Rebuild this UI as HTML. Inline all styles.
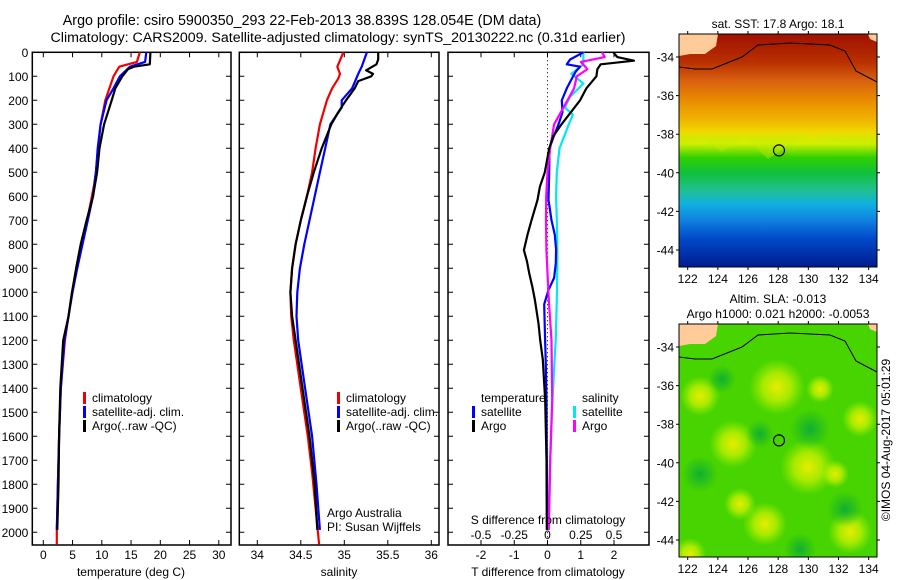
<!DOCTYPE html>
<html><head><meta charset="utf-8"><style>
html,body{margin:0;padding:0;background:#fff;}
svg{display:block;font-family:"Liberation Sans",sans-serif;}
</style></head><body>
<svg id="c" width="900" height="580" viewBox="0 0 900 580" xmlns="http://www.w3.org/2000/svg">
<defs>
<linearGradient id="sstg" x1="0" y1="0" x2="0" y2="1">
<stop offset="0" stop-color="#a01000"/><stop offset="0.12" stop-color="#b83000"/>
<stop offset="0.2" stop-color="#d86010"/><stop offset="0.28" stop-color="#e88a00"/>
<stop offset="0.36" stop-color="#f0b000"/><stop offset="0.42" stop-color="#f0d800"/>
<stop offset="0.47" stop-color="#d0f000"/><stop offset="0.53" stop-color="#30d000"/>
<stop offset="0.6" stop-color="#10c040"/><stop offset="0.67" stop-color="#20c090"/>
<stop offset="0.73" stop-color="#10b0e0"/><stop offset="0.8" stop-color="#1080e0"/>
<stop offset="0.88" stop-color="#0048c8"/><stop offset="1" stop-color="#001c90"/>
</linearGradient>
<radialGradient id="yb"><stop offset="0" stop-color="#e8ec00"/><stop offset="0.5" stop-color="#c0f000" stop-opacity="0.8"/><stop offset="1" stop-color="#a0f000" stop-opacity="0"/></radialGradient>
<radialGradient id="gb"><stop offset="0" stop-color="#10b030"/><stop offset="1" stop-color="#10b030" stop-opacity="0"/></radialGradient>
</defs>
<text x="302" y="25" font-size="14.3" text-anchor="middle">Argo profile: csiro 5900350_293 22-Feb-2013 38.839S 128.054E (DM data)</text>
<text x="338" y="42" font-size="14.2" text-anchor="middle">Climatology: CARS2009. Satellite-adjusted climatology: synTS_20130222.nc (0.31d earlier)</text>
<g id="p1"></g>
<g id="p2"></g>
<g id="p3"></g>
<g id="m1"></g>
<g id="m2"></g>
<text transform="translate(890,440) rotate(-90)" font-size="12" text-anchor="middle">©IMOS 04-Aug-2017 05:01:29</text>
</svg>
<script>
// ---- data ----
const tClimDepth = [0,40,60,100,150,200,300,400,500,550,600,700,800,900,1000,1100,1200,1400,1600,1800,2000,2050];
const tClimVal   = [16.5,16.0,13.0,12.0,11.3,10.6,9.8,9.4,9.0,8.7,8.3,7.5,6.6,5.8,4.9,4.3,3.7,3.0,2.7,2.5,2.3,2.3];
const tSatDepth  = [0,40,60,100,150,200,300,400,500,600,700,800,900,1000,1100,1200,1400,1600,1800,1990];
const tSatVal    = [17.6,17.4,14.8,13.1,12.0,10.8,9.8,9.3,9.0,8.5,7.6,6.7,5.8,5.0,4.3,3.6,3.0,2.7,2.5,2.3];
const tArgoDepth = [0,50,60,70,100,150,200,300,400,500,600,700,800,900,1000,1100,1200,1400,1600,1800,1990];
const tArgoVal   = [18.3,18.2,15.5,14.5,13.5,12.3,11.7,10.4,9.6,9.2,8.5,7.4,6.4,5.6,4.9,4.3,3.4,2.9,2.7,2.6,2.4];
const sClimDepth = [0,60,90,110,150,200,300,400,500,600,700,800,900,1000,1100,1200,1300,1450,1600,1750,1900,2050];
const sClimVal   = [34.99,34.92,34.95,34.93,34.86,34.80,34.72,34.67,34.63,34.57,34.50,34.44,34.40,34.38,34.39,34.42,34.46,34.52,34.58,34.63,34.67,34.71];
const sSatDepth  = [0,60,90,150,200,230,300,400,500,600,700,800,900,1000,1100,1200,1400,1600,1800,1990];
const sSatVal    = [35.26,35.20,35.16,35.09,34.97,34.97,34.84,34.78,34.72,34.66,34.60,34.54,34.49,34.46,34.45,34.47,34.55,34.63,34.68,34.72];
const sArgoDepth = [0,30,50,75,90,100,120,150,200,250,300,400,500,600,700,800,900,1000,1100,1200,1400,1600,1800,1990];
const sArgoVal   = [35.39,35.39,35.37,35.25,35.33,35.31,35.16,35.12,35.02,34.93,34.85,34.74,34.65,34.57,34.50,34.44,34.40,34.38,34.40,34.44,34.52,34.60,34.66,34.69];
const dTSatDepth = [0,30,50,60,80,100,150,200,250,300,350,400,500,615,700,760,820,880,940,990,1050,1150,1300,1450,1700,1990];
const dTSatVal   = [1.08,0.68,0.58,0.98,0.85,0.77,0.58,0.43,0.45,0.33,0.19,0.06,0.05,0.03,0.12,0.22,0.26,0.25,0.2,0.03,-0.1,-0.08,-0.05,-0.03,-0.02,0.0];
const dTArgoDepth= [0,20,35,50,70,100,150,200,250,300,350,400,500,560,615,700,760,824,870,920,980,1032,1130,1200,1280,1450,1700,1990];
const dTArgoVal  = [1.98,2.1,2.6,1.6,1.5,1.47,1.17,0.98,0.7,0.42,0.17,0.05,-0.08,-0.23,-0.3,-0.48,-0.6,-0.71,-0.62,-0.55,-0.45,-0.38,-0.27,-0.22,-0.14,-0.07,-0.03,-0.02];
const dSSatDepth = [0,50,90,130,185,230,260,300,400,500,600,700,800,900,1032,1200,1449,1700,1990];
const dSSatVal   = [0.27,0.27,0.18,0.27,0.17,0.13,0.19,0.16,0.09,0.07,0.065,0.07,0.074,0.074,0.07,0.062,0.037,0.02,0.01];
const dSArgoDepth= [0,20,40,70,100,150,200,250,300,400,500,600,700,824,1032,1200,1449,1700,1990];
const dSArgoVal  = [0.41,0.43,0.25,0.30,0.22,0.20,0.15,0.10,0.05,0.02,0.0,-0.01,-0.011,-0.008,0.01,0.03,0.035,0.02,0.01];
const depthTicks = [0,100,200,300,400,500,600,700,800,900,1000,1100,1200,1300,1400,1500,1600,1700,1800,1900,2000];
const tTicks = [0,5,10,15,20,25,30];
const sTicks = [34,34.5,35,35.5,36];
const dTTicks = [-2,-1,0,1,2];
const dSTicks = [-0.5,-0.25,0,0.25,0.5];
const dSTickLabels = ["-0.5","-0.25","0","0.25","0.5"];
const latTicks = [-34,-36,-38,-40,-42,-44];
const lonTicks = [122,124,126,128,130,132,134];
const argoLon = 128.054, argoLat = -38.839;

// ---- helpers ----
const NS="http://www.w3.org/2000/svg";
function mk(tag, attrs, parent, txt){const e=document.createElementNS(NS,tag);for(const k in attrs)e.setAttribute(k,attrs[k]);if(txt!==undefined)e.textContent=txt;parent.appendChild(e);return e;}
const yD = d => 52.3 + d*0.24;
const xT = t => 43.3 + t*5.85;
const xS = s => 257.3 + (s-34)*87;
const xDT = t => 547.5 + t*33.25;
const xDS = s => 547.5 + s*133;
const TOP=52.3, BOT=545;

function frame(g,x0,x1){
  const r=mk('rect',{x:x0,y:TOP,width:x1-x0,height:BOT-TOP,fill:'none',stroke:'#000','stroke-width':1.5},g);
  
  
}
function yTicks(g,x0,x1,labels){
  depthTicks.forEach(d=>{
    const y=yD(d);
    const l=mk('path',{d:`M${x0},${y}h5M${x1},${y}h-5`,stroke:'#000','stroke-width':1},g);
    
    
    if(labels){
      const t=mk('text',{x:x0-4,y:y+4.5,'font-size':12,'text-anchor':'end'},g,String(d));
      
      
    }
  });
}
function xTicks(g,vals,fx,labels,ly,top){
  vals.forEach((v,i)=>{
    const x=fx(v);
    const l=mk('path',{d:`M${x},${BOT}v-5`+(top?`M${x},${TOP}v5`:''),stroke:'#000','stroke-width':1},g);
    
    
    if(labels){
      const t=mk('text',{x:x,y:ly,'font-size':12,'text-anchor':'middle'},g,labels[i]);
      
      
    }
  });
}
function line(g,ds,vs,fx,col,name){
  const pts=ds.map((d,i)=>fx(vs[i]).toFixed(1)+','+yD(d).toFixed(1)).join(' ');
  const p=mk('polyline',{points:pts,fill:'none',stroke:col,'stroke-width':2.2,'stroke-linejoin':'round'},g);
  
  
}
function legend(g,x,y,col,label){
  const r=mk('rect',{x:x,y:y-10,width:3,height:12,fill:col},g);
  
  
  const t=mk('text',{x:x+9,y:y,'font-size':12},g,label);
  
  
}
function txt(g,x,y,s,anchor,name,size){
  const t=mk('text',{x:x,y:y,'font-size':size||12,'text-anchor':anchor||'start'},g,s);
  
  
}

// ---- panel 1 ----
const p1=document.getElementById('p1');
frame(p1,32.3,231); yTicks(p1,32.3,231,true);
xTicks(p1,tTicks,xT,tTicks.map(String),559,true);
txt(p1,131,576,'temperature (deg C)','middle','x-axis-title');
line(p1,tClimDepth,tClimVal,xT,'#f00000','temp-climatology-line');
line(p1,tSatDepth,tSatVal,xT,'#0000ff','temp-satellite-line');
line(p1,tArgoDepth,tArgoVal,xT,'#000','temp-argo-line');
legend(p1,83,402,'#f00000','climatology');
legend(p1,83,416,'#0000ff','satellite-adj. clim.');
legend(p1,83,430,'#000','Argo(..raw -QC)');

// ---- panel 2 ----
const p2=document.getElementById('p2');
frame(p2,239.3,439); yTicks(p2,239.3,439,false);
xTicks(p2,sTicks,xS,sTicks.map(String),559,true);
txt(p2,339,576,'salinity','middle','x-axis-title');
line(p2,sClimDepth,sClimVal,xS,'#f00000','sal-climatology-line');
line(p2,sSatDepth,sSatVal,xS,'#0000ff','sal-satellite-line');
line(p2,sArgoDepth,sArgoVal,xS,'#000','sal-argo-line');
legend(p2,337,402,'#f00000','climatology');
legend(p2,337,416,'#0000ff','satellite-adj. clim.');
legend(p2,337,430,'#000','Argo(..raw -QC)');
txt(p2,327,517,'Argo Australia','start','credit-argo-australia');
txt(p2,327,531,'PI: Susan Wijffels','start','credit-pi');

// ---- panel 3 ----
const p3=document.getElementById('p3');
frame(p3,448,649); yTicks(p3,448,649,false);
xTicks(p3,dTTicks,xDT,dTTicks.map(String),559,true);
const zl=mk('line',{x1:xDT(0),y1:TOP,x2:xDT(0),y2:BOT,stroke:'#000','stroke-width':1,'stroke-dasharray':'1,3'},p3);


line(p3,dSSatDepth,dSSatVal,xDS,'#00e8f0','sdiff-satellite-line');
line(p3,dTSatDepth,dTSatVal,xDT,'#0000ff','tdiff-satellite-line');
line(p3,dSArgoDepth,dSArgoVal,xDS,'#ff00ff','sdiff-argo-line');
line(p3,dTArgoDepth,dTArgoVal,xDT,'#000','tdiff-argo-line');
dSTicks.forEach((v,i)=>{txt(p3,xDS(v),539,dSTickLabels[i],'middle','s-tick-label');});
txt(p3,548,524,'S difference from climatology','middle','s-axis-title');
txt(p3,548,576,'T difference from climatology','middle','t-axis-title');
txt(p3,481,402,'temperature','start','legend-title-temperature');
txt(p3,582,402,'salinity','start','legend-title-salinity');
legend(p3,472,416,'#0000ff','satellite');
legend(p3,472,430,'#000','Argo');
legend(p3,573,416,'#00e8f0','satellite');
legend(p3,573,430,'#ff00ff','Argo');

// ---- maps ----
const MX0=679,MX1=877;
const xLon = lon => 687.7 + (lon-122)*15.08;
function map(g,y0,kind,titles){
  const y1=y0+233;
  const yLat = lat => y0+23 + (-34-lat)*19.3;
  const cp=mk('clipPath',{id:'clip'+kind},g);
  mk('rect',{x:MX0,y:y0,width:MX1-MX0,height:y1-y0},cp);
  const inner=mk('g',{'clip-path':`url(#clip${kind})`},g);
  if(kind==='sst'){
    const b=mk('rect',{x:MX0,y:y0,width:MX1-MX0,height:y1-y0,fill:'url(#sstg)'},inner);
    
    
    mk('path',{d:`M${MX0},${y0+112} L700,${y0+104} L722,${y0+118} L745,${y0+102} L768,${y0+125} L790,${y0+110} L812,${y0+100} L835,${y0+108} L858,${y0+110} L${MX1},${y0+112} V${y0+100} H${MX0}Z`,fill:'#c8ec00',opacity:0.4},inner);
  } else {
    const b=mk('rect',{x:MX0,y:y0,width:MX1-MX0,height:y1-y0,fill:'#48d400'},inner);
    
    
    [[777,63,28],[808,143,28],[733,120,24],[700,72,20],[860,95,18],[765,200,22],[850,208,22],[690,230,16],[835,150,14],[740,180,16],[820,65,14]].forEach(c=>{
      mk('circle',{cx:c[0],cy:y0+c[1],r:c[2],fill:'url(#yb)'},inner);
    });
    [[810,105,20],[700,150,18],[760,110,14],[845,185,18],[722,55,14],[800,225,16]].forEach(c=>{
      mk('circle',{cx:c[0],cy:y0+c[1],r:c[2],fill:'url(#gb)'},inner);
    });
  }
  const land=mk('path',{d:`M${MX0},${y0} H718 L716,${y0+12} L705,${y0+20} L690,${y0+20} L${MX0},${y0+22}Z M868,${y0} H${MX1} V${y0+8} L870,${y0+5}Z`,fill:'#ffcc99'},inner);
  
  
  const coast=mk('path',{d:`M${MX0},${y0+33} L695,${y0+35} L712,${y0+35} L742,${y0+23} L758,${y0+11} L790,${y0+9} L830,${y0+11} L845,${y0+17} L856,${y0+37} L${MX1},${y0+48}`,fill:'none',stroke:'#000','stroke-width':1},inner);
  
  
  const f=mk('rect',{x:MX0,y:y0,width:MX1-MX0,height:y1-y0,fill:'none',stroke:'#000','stroke-width':1},g);
  
  
  const ci=mk('circle',{cx:xLon(argoLon),cy:yLat(argoLat),r:5.5,fill:'none',stroke:'#000','stroke-width':1.2},g);
  
  
  latTicks.forEach(l=>{
    const y=yLat(l);
    mk('path',{d:`M${MX0},${y}h-3M${MX1},${y}h3`,stroke:'#000'},g);
    txt(g,674,y+4.5,String(l),'end','lat-tick-label');
  });
  lonTicks.forEach(l=>{
    const x=xLon(l);
    mk('path',{d:`M${x},${y0}v-3M${x},${y1}v3`,stroke:'#000'},g);
    txt(g,x,y1+16,String(l),'middle','lon-tick-label');
  });
  titles.forEach((t,i)=>txt(g,778,t[1],t[0],'middle','map-title'));
}
map(document.getElementById('m1'),34,'sst',[['sat. SST: 17.8 Argo: 18.1',28]]);
map(document.getElementById('m2'),324,'sla',[['Altim. SLA: -0.013',303],['Argo h1000: 0.021 h2000: -0.0053',318]]);
</script>
</body></html>
